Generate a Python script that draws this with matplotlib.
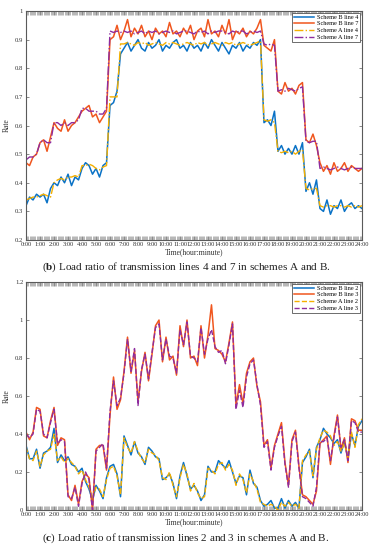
"""Load ratio of transmission lines under schemes A and B (panels b and c)."""
import matplotlib
matplotlib.use("Agg")

import matplotlib.pyplot as plt
from matplotlib.ticker import MultipleLocator
import numpy as np

plt.rcParams["font.family"] = ["Liberation Serif", "DejaVu Serif"]
plt.rcParams["mathtext.fontset"] = "custom"
plt.rcParams["mathtext.bf"] = "Liberation Serif:bold"
plt.rcParams["mathtext.rm"] = "Liberation Serif"

_BLUE = "#0a72c6"
_ORANGE = "#f0561e"
_YELLOW = "#f5b000"
_PURPLE = "#8e2c9e"
_FRAME = "#5a5a5a"

# 15-minute samples, 0:00 .. 24:00
HOURS = np.arange(97) / 4
HOUR_LABELS = [f"{h}:00" for h in range(25)]

# panel (b): lines 4 and 7
B_LINE4 = [0.32, 0.35, 0.34, 0.36, 0.35, 0.36, 0.33, 0.38, 0.40, 0.39,
           0.42, 0.40, 0.43, 0.39, 0.42, 0.41, 0.45, 0.47, 0.46, 0.43,
           0.45, 0.42, 0.46, 0.47, 0.67, 0.68, 0.72, 0.85,
           0.87, 0.89, 0.86, 0.88, 0.90, 0.87, 0.86, 0.89, 0.87, 0.88,
           0.90, 0.86, 0.88, 0.87, 0.89, 0.90, 0.87, 0.88, 0.86, 0.89,
           0.87, 0.88, 0.86, 0.89, 0.87, 0.90, 0.88, 0.86, 0.89, 0.87,
           0.85, 0.88, 0.87, 0.89, 0.86, 0.88, 0.87, 0.89, 0.88, 0.90,
           0.61, 0.62, 0.60, 0.65, 0.51, 0.53, 0.50, 0.52, 0.50, 0.53,
           0.50, 0.54, 0.37, 0.40, 0.36, 0.41, 0.31, 0.30, 0.34, 0.29,
           0.32, 0.31, 0.34, 0.30, 0.32, 0.33, 0.31, 0.32, 0.31]
B_LINE7 = [0.47, 0.46, 0.49, 0.50, 0.54, 0.55, 0.51, 0.56, 0.61, 0.59,
           0.58, 0.62, 0.58, 0.60, 0.61, 0.63, 0.65, 0.66, 0.67, 0.63,
           0.64, 0.61, 0.63, 0.65, 0.90, 0.91, 0.95, 0.90,
           0.93, 0.97, 0.91, 0.94, 0.92, 0.95, 0.91, 0.93, 0.90, 0.94,
           0.92, 0.93, 0.91, 0.96, 0.92, 0.93, 0.91, 0.94, 0.92, 0.95,
           0.90, 0.93, 0.94, 0.91, 0.97, 0.92, 0.93, 0.91, 0.95, 0.92,
           0.97, 0.90, 0.93, 0.92, 0.94, 0.91, 0.93, 0.92, 0.94, 0.97,
           0.88, 0.87, 0.86, 0.90, 0.72, 0.71, 0.75, 0.72, 0.73, 0.71,
           0.74, 0.75, 0.55, 0.54, 0.57, 0.53, 0.47, 0.44, 0.46, 0.43,
           0.47, 0.44, 0.45, 0.47, 0.44, 0.46, 0.45, 0.44, 0.45]
A_LINE4 = [0.34, 0.345, 0.35, 0.35, 0.355, 0.36, 0.355, 0.35, 0.40, 0.41,
           0.415, 0.41, 0.42, 0.42, 0.425, 0.42, 0.46, 0.46, 0.465, 0.46,
           0.45, 0.445, 0.455, 0.46, 0.70, 0.70, 0.70, 0.885,
           0.885, 0.89, 0.885, 0.88, 0.89, 0.885, 0.89, 0.88, 0.885, 0.89,
           0.885, 0.88, 0.89, 0.885, 0.89, 0.885, 0.88, 0.885, 0.89, 0.885,
           0.88, 0.89, 0.885, 0.89, 0.88, 0.885, 0.89, 0.885, 0.88, 0.89,
           0.885, 0.89, 0.88, 0.885, 0.89, 0.885, 0.88, 0.885, 0.89, 0.895,
           0.62, 0.615, 0.62, 0.61, 0.51, 0.505, 0.51, 0.505, 0.51, 0.50,
           0.51, 0.515, 0.38, 0.375, 0.38, 0.38, 0.32, 0.315, 0.32, 0.32,
           0.315, 0.32, 0.32, 0.315, 0.32, 0.315, 0.32, 0.315, 0.32]
A_LINE7 = [0.48, 0.49, 0.49, 0.50, 0.54, 0.55, 0.54, 0.54, 0.61, 0.61,
           0.60, 0.61, 0.60, 0.61, 0.61, 0.62, 0.66, 0.66, 0.65, 0.65,
           0.65, 0.64, 0.64, 0.66, 0.93, 0.925, 0.93, 0.925,
           0.93, 0.925, 0.93, 0.92, 0.925, 0.93, 0.92, 0.93, 0.925, 0.93,
           0.92, 0.925, 0.93, 0.925, 0.93, 0.92, 0.925, 0.93, 0.93, 0.925,
           0.92, 0.93, 0.925, 0.93, 0.92, 0.93, 0.925, 0.93, 0.93, 0.925,
           0.92, 0.93, 0.925, 0.93, 0.93, 0.92, 0.925, 0.93, 0.925, 0.93,
           0.885, 0.88, 0.885, 0.88, 0.72, 0.725, 0.72, 0.73, 0.725, 0.72,
           0.73, 0.735, 0.545, 0.54, 0.545, 0.545, 0.45, 0.455, 0.45, 0.445,
           0.45, 0.455, 0.45, 0.445, 0.45, 0.455, 0.45, 0.45, 0.45]

# panel (c): lines 2 and 3
B_LINE2 = [0.34, 0.27, 0.27, 0.32, 0.22, 0.30, 0.31, 0.33, 0.43, 0.25,
           0.29, 0.26, 0.28, 0.24, 0.23, 0.20, 0.22, 0.15, 0.11, 0.05,
           0.13, 0.10, 0.06, 0.17, 0.23, 0.24, 0.19, 0.07, 0.39, 0.34,
           0.29, 0.36, 0.30, 0.28, 0.24, 0.33, 0.31, 0.28, 0.27, 0.16,
           0.17, 0.19, 0.14, 0.06, 0.18, 0.25, 0.18, 0.11, 0.13, 0.10,
           0.05, 0.08, 0.23, 0.20, 0.20, 0.26, 0.24, 0.22, 0.26, 0.20,
           0.14, 0.18, 0.17, 0.08, 0.21, 0.14, 0.12, 0.05, 0.02, 0.03,
           0.05, 0.01, 0.01, 0.06, 0.01, 0.05, 0.02, 0.04, 0.01, 0.25,
           0.28, 0.32, 0.17, 0.33, 0.37, 0.43, 0.40, 0.38, 0.35, 0.37,
           0.30, 0.36, 0.27, 0.40, 0.34, 0.44, 0.47]
B_LINE3 = [0.41, 0.37, 0.41, 0.54, 0.53, 0.39, 0.38, 0.47, 0.54, 0.34,
           0.38, 0.37, 0.08, 0.05, 0.13, 0.03, 0.15, 0.19, 0.17, 0.00,
           0.32, 0.34, 0.34, 0.21, 0.50, 0.70, 0.53, 0.58, 0.73, 0.91,
           0.72, 0.84, 0.57, 0.73, 0.83, 0.68, 0.82, 0.97, 1.00, 0.78,
           0.91, 0.79, 0.81, 0.71, 0.97, 0.86, 1.00, 0.80, 0.81, 0.76,
           0.97, 0.80, 0.92, 1.08, 0.85, 0.84, 0.82, 0.78, 0.88, 0.99,
           0.55, 0.66, 0.56, 0.72, 0.78, 0.80, 0.65, 0.57, 0.34, 0.37,
           0.22, 0.34, 0.40, 0.46, 0.25, 0.13, 0.37, 0.42, 0.23, 0.08,
           0.07, 0.05, 0.03, 0.10, 0.35, 0.37, 0.39, 0.24, 0.39, 0.50,
           0.32, 0.38, 0.25, 0.48, 0.47, 0.42, 0.42]
A_LINE2 = [0.33, 0.27, 0.26, 0.31, 0.23, 0.29, 0.31, 0.32, 0.40, 0.26,
           0.28, 0.25, 0.27, 0.25, 0.23, 0.19, 0.21, 0.16, 0.12, 0.06,
           0.12, 0.11, 0.07, 0.16, 0.22, 0.23, 0.18, 0.08, 0.38, 0.33,
           0.30, 0.36, 0.31, 0.27, 0.25, 0.32, 0.30, 0.29, 0.26, 0.17,
           0.16, 0.20, 0.13, 0.07, 0.17, 0.24, 0.19, 0.10, 0.14, 0.09,
           0.06, 0.07, 0.22, 0.21, 0.19, 0.24, 0.25, 0.21, 0.24, 0.21,
           0.13, 0.19, 0.16, 0.09, 0.19, 0.15, 0.11, 0.04, 0.03, 0.02,
           0.03, 0.02, 0.00, 0.04, 0.02, 0.04, 0.02, 0.03, 0.01, 0.26,
           0.29, 0.31, 0.18, 0.32, 0.38, 0.42, 0.41, 0.39, 0.34, 0.36,
           0.31, 0.35, 0.28, 0.41, 0.33, 0.45, 0.48]
A_LINE3 = [0.40, 0.38, 0.40, 0.53, 0.52, 0.40, 0.38, 0.46, 0.53, 0.35,
           0.37, 0.36, 0.07, 0.06, 0.12, 0.02, 0.14, 0.20, 0.16, 0.00,
           0.31, 0.33, 0.35, 0.22, 0.52, 0.68, 0.55, 0.59, 0.72, 0.90,
           0.73, 0.85, 0.55, 0.74, 0.82, 0.69, 0.83, 0.96, 0.98, 0.79,
           0.90, 0.81, 0.80, 0.72, 0.95, 0.87, 0.99, 0.81, 0.80, 0.78,
           0.96, 0.82, 0.90, 0.95, 0.86, 0.83, 0.84, 0.77, 0.87, 0.98,
           0.53, 0.63, 0.54, 0.70, 0.77, 0.79, 0.66, 0.55, 0.33, 0.36,
           0.21, 0.33, 0.39, 0.44, 0.24, 0.12, 0.36, 0.41, 0.22, 0.07,
           0.06, 0.04, 0.02, 0.12, 0.36, 0.36, 0.38, 0.26, 0.38, 0.49,
           0.33, 0.37, 0.26, 0.47, 0.46, 0.41, 0.41]


def _style(ax, ylim, yticks, yticklabels):
    ax.set_xlim(0, 24)
    ax.set_ylim(*ylim)
    ax.set_xticks(range(25))
    ax.set_xticklabels(HOUR_LABELS)
    ax.xaxis.set_minor_locator(MultipleLocator(1 / 12))
    ax.set_yticks(yticks)
    ax.set_yticklabels(yticklabels)
    ax.tick_params(axis="both", which="both", direction="in", top=True, right=True,
                   colors=_FRAME, labelcolor="#333333", width=0.5)
    ax.tick_params(axis="x", which="major", length=3, labelsize=4.6, pad=1.5)
    ax.tick_params(axis="x", which="minor", length=3, color="#9a9a9a")
    ax.tick_params(axis="y", which="major", length=2.5, labelsize=4.8, pad=2)
    for s in ax.spines.values():
        s.set_color(_FRAME)
        s.set_linewidth(0.8)
    ax.set_xlabel("Time(hour:minute)", fontsize=5.5, labelpad=1, color="#333333")
    ax.set_ylabel("Rate", fontsize=5.5, labelpad=3, color="#333333")


def _panel(ax, series, dash):
    (b_a, lab_ba), (b_b, lab_bb), (a_a, lab_aa), (a_b, lab_ab) = series
    ax.plot(HOURS, b_a, color=_BLUE, lw=1.1, label=lab_ba)
    ax.plot(HOURS, b_b, color=_ORANGE, lw=1.1, label=lab_bb)
    ax.plot(HOURS, a_a, color=_YELLOW, lw=1.0, ls=dash, label=lab_aa)
    ax.plot(HOURS, a_b, color=_PURPLE, lw=1.0, ls=dash, label=lab_ab)
    leg = ax.legend(loc="upper right", fontsize=4.5, handlelength=3.2,
                    borderaxespad=0.25, fancybox=False, framealpha=1,
                    edgecolor="#555555", borderpad=0.3, labelspacing=0.2,
                    handletextpad=0.5)
    leg.get_frame().set_linewidth(0.6)


fig = plt.figure(figsize=(3.72, 5.5), dpi=100)
ax_b = fig.add_axes([0.070, 0.5636, 0.903, 0.4164])
ax_c = fig.add_axes([0.070, 0.0727, 0.903, 0.4145])

_panel(ax_b, [(B_LINE4, "Scheme B line 4"), (B_LINE7, "Scheme B line 7"),
              (A_LINE4, "Scheme A line 4"), (A_LINE7, "Scheme A line 7")], "-.")
_style(ax_b, (0.2, 1.0), np.arange(2, 11) / 10,
       ["0.2", "0.3", "0.4", "0.5", "0.6", "0.7", "0.8", "0.9", "1"])

_panel(ax_c, [(B_LINE2, "Scheme B line 2"), (B_LINE3, "Scheme B line 3"),
              (A_LINE2, "Scheme A line 2"), (A_LINE3, "Scheme A line 3")], "--")
_style(ax_c, (0.0, 1.2), np.arange(0, 7) / 5,
       ["0", "0.2", "0.4", "0.6", "0.8", "1", "1.2"])

fig.text(0.5, 0.5145,
         r"($\mathbf{b}$) Load ratio of transmission lines 4 and 7 in schemes A and B.",
         ha="center", va="center", fontsize=8, color="#222222")
fig.text(0.5, 0.022,
         r"($\mathbf{c}$) Load ratio of transmission lines 2 and 3 in schemes A and B.",
         ha="center", va="center", fontsize=8, color="#222222")

fig.savefig("out.png", dpi=100, facecolor="white")
